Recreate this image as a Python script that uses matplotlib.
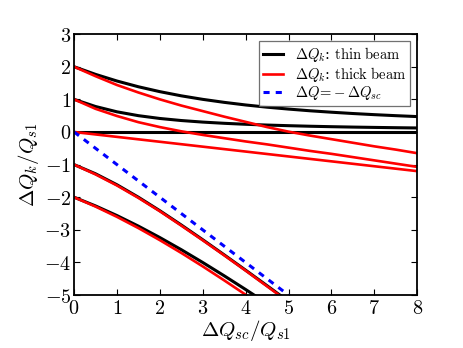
import matplotlib
matplotlib.use('Agg')
import matplotlib.pyplot as plt
from matplotlib.ticker import FuncFormatter, MultipleLocator

plt.rcParams['mathtext.fontset'] = 'cm'
plt.rcParams['font.family'] = 'DejaVu Serif'

# space-charge parameter dQsc/Qs1
q = [0.0, 0.5, 1.0, 1.5, 2.0, 2.5, 3.0, 3.5, 4.0, 4.5, 5.0, 5.5, 6.0, 6.5, 7.0, 7.5, 8.0]

# thin beam modes (black)
thin_k2 = [2.0, 1.766, 1.562, 1.386, 1.236, 1.108, 1.0, 0.908, 0.828, 0.760, 0.702,
           0.650, 0.606, 0.566, 0.531, 0.500, 0.472]
thin_k1 = [1.0, 0.781, 0.618, 0.500, 0.414, 0.351, 0.303, 0.266, 0.236, 0.212, 0.193,
           0.176, 0.162, 0.150, 0.140, 0.131, 0.123]
thin_k0 = [0.0] * 17
thin_km1 = [-1.0, -1.281, -1.618, -2.0, -2.414, -2.851, -3.303, -3.766, -4.236, -4.712,
            -5.193, -5.676]
thin_km2 = [-2.0, -2.266, -2.562, -2.886, -3.236, -3.608, -4.0, -4.408, -4.828, -5.260]

# thick beam modes (red)
thick_k2 = [2.0, 1.71, 1.44, 1.21, 1.00, 0.81, 0.64, 0.47, 0.31, 0.15, 0.01,
            -0.11, -0.22, -0.33, -0.44, -0.54, -0.65]
thick_k1 = [1.0, 0.71, 0.49, 0.30, 0.15, 0.02, -0.09, -0.19, -0.29, -0.38, -0.48,
            -0.58, -0.67, -0.77, -0.87, -0.97, -1.07]
thick_k0 = [0.0, -0.075, -0.15, -0.225, -0.30, -0.375, -0.45, -0.525, -0.60, -0.675, -0.75,
            -0.825, -0.90, -0.975, -1.05, -1.125, -1.20]
thick_km1 = [-1.0, -1.30, -1.64, -2.02, -2.43, -2.87, -3.32, -3.78, -4.25, -4.73, -5.21]
thick_km2 = [-2.0, -2.286, -2.602, -2.946, -3.316, -3.708, -4.12, -4.548, -4.988, -5.44]

# incoherent line dQ = -dQsc
diag_x = [0.0, 8.0]
diag_y = [0.0, -8.0]

fig = plt.figure(figsize=(4.63, 3.48), dpi=100)
ax = fig.add_axes([0.160, 0.152, 0.741, 0.750])

thin = [thin_k2, thin_k1, thin_k0, thin_km1, thin_km2]
thick = [thick_k2, thick_k1, thick_k0, thick_km1, thick_km2]

for i, ys in enumerate(thin):
    ax.plot(q[:len(ys)], ys, color='black', lw=2.2,
            label=r'$\Delta Q_k$: $\mathrm{thin\ beam}$' if i == 0 else None)
for i, ys in enumerate(thick):
    ax.plot(q[:len(ys)], ys, color='red', lw=1.9,
            label=r'$\Delta Q_k$: $\mathrm{thick\ beam}$' if i == 0 else None)
ax.plot(diag_x, diag_y, color='blue', lw=2.2, ls=(0, (2, 2)),
        label=r'$\Delta Q\!=\!-\Delta Q_{sc}$')

ax.set_xlim(0, 8)
ax.set_ylim(-5, 3)
ax.xaxis.set_major_locator(MultipleLocator(1))
ax.yaxis.set_major_locator(MultipleLocator(1))

fmt = FuncFormatter(lambda v, p: r'$%d$' % round(v))
ax.xaxis.set_major_formatter(fmt)
ax.yaxis.set_major_formatter(fmt)
ax.tick_params(direction='in', top=True, right=True, length=4, width=0.8,
               labelsize=14.5, pad=3)
ax.tick_params(axis='y', pad=2)

for s in ax.spines.values():
    s.set_linewidth(1.3)

ax.set_xlabel(r'$\Delta Q_{sc}/Q_{s1}$', fontsize=15, labelpad=0)
ax.set_ylabel(r'$\Delta Q_k/Q_{s1}$', fontsize=15, labelpad=2)

leg = ax.legend(loc='upper right', fontsize=10.5, handlelength=1.4,
                fancybox=False, borderaxespad=0.5, labelspacing=0.05,
                borderpad=0.25, handletextpad=0.8)
leg.get_frame().set_edgecolor('0.3')
leg.get_frame().set_linewidth(0.9)

fig.savefig('out.png', dpi=100)
